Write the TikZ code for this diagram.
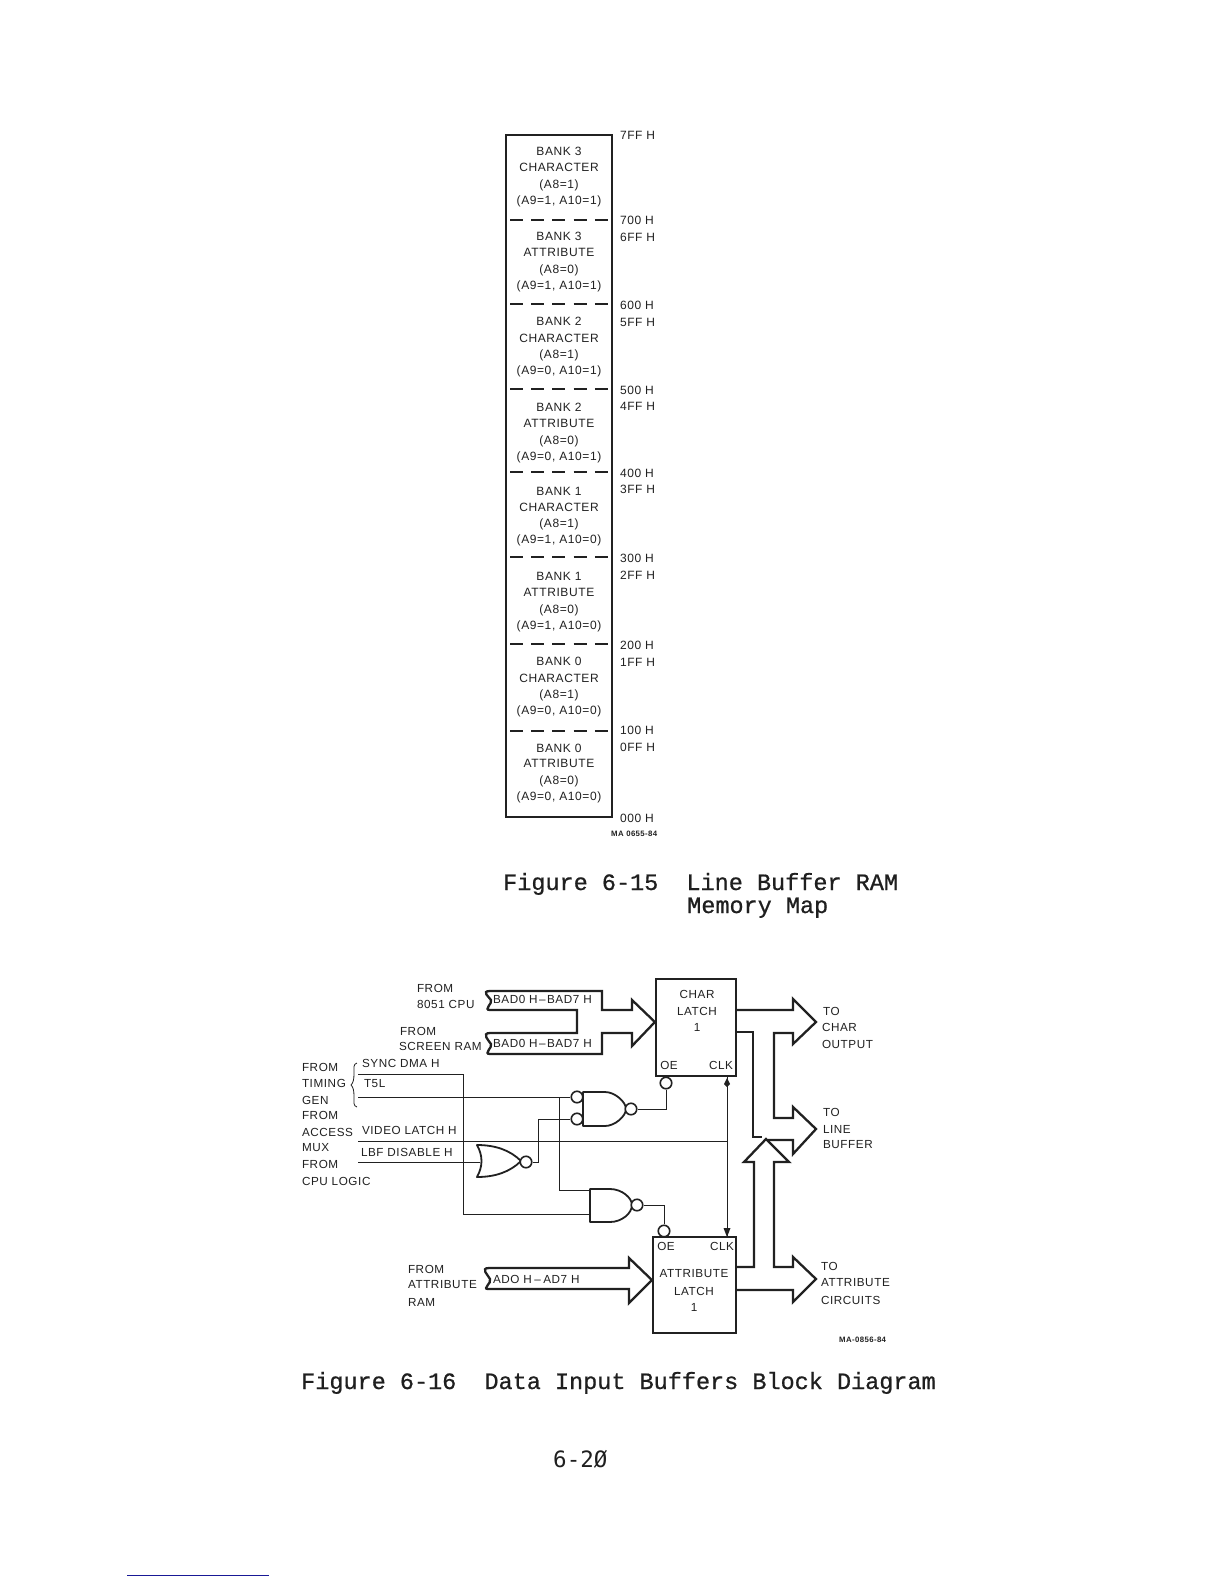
\documentclass[tikz,border=0pt]{standalone}
\usepackage{fontspec}
\newfontfamily\labfont[LetterSpace=5]{Liberation Sans}
\newfontfamily\capfont[FakeBold=0.7]{Liberation Mono}
\newfontfamily\pagefont{DejaVu Sans Mono}
\definecolor{ink}{gray}{0.13}
\definecolor{capink}{gray}{0.12}
\definecolor{footblue}{RGB}{25,25,150}
\tikzset{
  x=1pt,y=-1pt,
  maplab/.style={font=\labfont\fontsize{12}{12}\selectfont,text=ink,inner sep=0pt,outer sep=0pt},
  lab/.style={font=\labfont\fontsize{11.7}{12}\selectfont,text=ink,inner sep=0pt,outer sep=0pt},
  labl/.style={lab,anchor=west},
  maplabl/.style={maplab,anchor=west},
  tiny lab/.style={font=\labfont\bfseries\fontsize{7.8}{8}\selectfont,text=ink,inner sep=0pt,anchor=west},
  captext/.style={font=\capfont\fontsize{23.5}{24}\selectfont,text=capink,inner sep=0pt,anchor=base west},
  pagetext/.style={font=\pagefont\fontsize{22.5}{24}\selectfont,text=capink,inner sep=0pt,anchor=base west},
  mapframe/.style={draw=ink,line width=2.6pt},
  dashrule/.style={draw=ink,line width=2pt,dash pattern=on 13pt off 8.2pt},
  bus/.style={draw=ink,line width=2.3pt,line join=miter,fill=white},
  wire/.style={draw=ink,line width=0.8pt},
  gate/.style={draw=ink,line width=1.8pt,fill=white,line join=round},
  bubble/.style={circle,draw=ink,line width=1.6pt,fill=white,minimum size=11.5pt,inner sep=0pt},
  latch/.style={rectangle,draw=ink,line width=2.2pt,fill=white,inner sep=0pt}
}
\begin{document}
\begin{tikzpicture}
\useasboundingbox[fill=white] (0,0) rectangle (1224,1584);
% --- memory map
\draw[mapframe] (506,135) rectangle (612,817);
\foreach \yy/\nm in {220/a,304/b,389/c,472/d,557/e,644/f,731/g}
  \draw[dashrule] (510,\yy) -- (608,\yy);
\foreach \n/\a/\b/\c/\d/\ya/\yb/\yc/\yd in {
 m1/BANK 3/CHARACTER/(A8=1)/{(A9=1, A10=1)}/151/167/185/201,
 m2/BANK 3/ATTRIBUTE/(A8=0)/{(A9=1, A10=1)}/236/252/270/286,
 m3/BANK 2/CHARACTER/(A8=1)/{(A9=0, A10=1)}/321/338/355/371,
 m4/BANK 2/ATTRIBUTE/(A8=0)/{(A9=0, A10=1)}/407/423/441/457,
 m5/BANK 1/CHARACTER/(A8=1)/{(A9=1, A10=0)}/491/507/524/540,
 m6/BANK 1/ATTRIBUTE/(A8=0)/{(A9=1, A10=0)}/576/592/610/626,
 m7/BANK 0/CHARACTER/(A8=1)/{(A9=0, A10=0)}/661/678/695/711,
 m8/BANK 0/ATTRIBUTE/(A8=0)/{(A9=0, A10=0)}/748/763/781/797}{
  \node[maplab] (\n a) at (559,\ya) {\a};
  \node[maplab] (\n b) at (559,\yb) {\b};
  \node[maplab] (\n c) at (559,\yc) {\c};
  \node[maplab] (\n d) at (559,\yd) {\d};
}
\foreach \n/\t/\yy in {
 h1/7FF H/135,h2/700 H/220,h3/6FF H/237,h4/600 H/305,h5/5FF H/322,
 h6/500 H/390,h7/4FF H/406,h8/400 H/473,h9/3FF H/489,h10/300 H/558,
 h11/2FF H/575,h12/200 H/645,h13/1FF H/662,h14/100 H/730,h15/0FF H/747,h16/000 H/818}{
  \node[maplabl] (\n) at (620,\yy) {\t};
}
\node[tiny lab] (ma1) at (611,834) {MA 0655-84};
% --- captions
\node[captext] (c1) at (503,890) {Figure 6-15~~Line Buffer RAM};
\node[captext] (c2) at (687,913) {Memory Map};
\node[captext] (c3) at (301,1389) {Figure 6-16~~Data Input Buffers Block Diagram};
\node[pagetext] (c4) at (553,1467) {6-2Ø};
% --- latches
\node[latch,minimum width=80pt,minimum height=97pt] (charlatch) at (696,1027.5) {};
\node[latch,minimum width=83pt,minimum height=96pt] (attrlatch) at (694.5,1285) {};
\node[lab] (cl1) at (697,994) {CHAR};
\node[lab] (cl2) at (697,1011) {LATCH};
\node[lab] (cl3) at (697,1027) {1};
\node[lab] (cl4) at (669,1065) {OE};
\node[lab] (cl5) at (721,1065) {CLK};
\node[lab] (al1) at (694,1274) {ATTRIBUTE};
\node[lab] (al2) at (694,1291) {LATCH};
\node[lab] (al3) at (694,1307) {1};
\node[lab] (al4) at (666,1246) {OE};
\node[lab] (al5) at (722,1246) {CLK};
% --- input buses
\draw[bus] (577,1010) -- (490,1010) .. controls (483,1010) and (493,1003) .. (491,1000)
  .. controls (489,997) and (481,991) .. (490,991) -- (602,991) -- (602,1010) -- (632,1010)
  -- (632,1000) -- (charlatch.west |- 0,1022) -- (632,1046) -- (632,1033) -- (602,1033)
  -- (602,1054) -- (490,1054) .. controls (483,1054) and (493,1047) .. (491,1044)
  .. controls (489,1041) and (481,1033) .. (490,1033) -- (577,1033) -- cycle;
\draw[bus] (attrlatch.west |- 0,1280) -- (629,1303) -- (629,1289) -- (488,1289)
  .. controls (482,1289) and (492,1283) .. (490,1279)
  .. controls (488,1275) and (480,1268) .. (489,1268) -- (629,1268) -- (629,1258) -- cycle;
% --- output buses
\draw[bus] (charlatch.east |- 0,1010) -- (793,1010) -- (793,999) -- (816,1022) -- (793,1044)
  -- (793,1033) -- (774,1033) -- (774,1118) -- (793,1118) -- (793,1107) -- (816,1129)
  -- (793,1154) -- (793,1140) -- (768,1140);
\draw[bus,fill=none] (charlatch.east |- 0,1032) -- (753,1032) -- (753,1137) -- (762,1137);
\draw[bus] (attrlatch.east |- 0,1267) -- (754,1267) -- (754,1162) -- (744,1162) -- (766,1139)
  -- (789,1162) -- (774,1162) -- (774,1267) -- (793,1267) -- (793,1257) -- (816,1279)
  -- (793,1302) -- (793,1290) -- (attrlatch.east |- 0,1290);
% --- gates
\draw[gate] (583,1092) -- (605,1092) .. controls (615,1092) and (626,1102) .. (626,1109)
  .. controls (626,1116) and (615,1126) .. (605,1126) -- (583,1126) -- cycle;
\draw[gate] (590,1189) -- (610,1189) .. controls (622,1189) and (632,1198) .. (632,1205)
  .. controls (632,1213) and (622,1222) .. (610,1222) -- (590,1222) -- cycle;
\draw[gate] (477,1145) .. controls (495,1145) and (510,1150) .. (521,1161)
  .. controls (510,1172) and (495,1177) .. (477,1177)
  .. controls (483,1166) and (483,1156) .. (477,1145) -- cycle;
\node[bubble] (nandAin1) at (577,1097) {};
\node[bubble] (nandAin2) at (577,1119) {};
\node[bubble] (nandAout) at (631,1109) {};
\node[bubble] (nandBout) at (637,1205) {};
\node[bubble] (norout) at (526,1162) {};
\node[bubble] (coe) at (666,1083) {};
\node[bubble] (aoe) at (664,1231) {};
\coordinate (fromT) at (358,1097);
\coordinate (fromTL) at (358,1074);
\coordinate (fromV) at (358,1141);
\coordinate (fromL) at (358,1162);
\coordinate (norin) at (480,1162);
\coordinate (nandBa) at (590,1190);
\coordinate (nandBb) at (590,1214);
\coordinate (clkc) at (727,1076);
\coordinate (clka) at (727,1237);
% --- wires
\draw[wire] (fromT) -- (nandAin1.west);
\draw[wire] (fromTL) -- (463,1074) -- (463,1214) -- (nandBb);
\draw[wire] (fromV) -- (727,1141);
\draw[wire] (fromL) -- (norin);
\draw[wire] (norout.east) -- (538,1162) -- (538,1119) -- (nandAin2.west);
\draw[wire] (559,1097) -- (559,1190) -- (nandBa);
\draw[wire] (nandAout.east) -- (666,1109) -- (coe.south);
\draw[wire] (nandBout.east) -- (664,1205) -- (aoe.north);
\draw[wire] (clkc) -- (clka);
\fill[ink] (727,1078) -- (730,1084) -- (727,1087) -- (724,1084) -- cycle;
\fill[ink] (727,1237) -- (723.5,1228) -- (730.5,1228) -- cycle;
% --- brace
\draw[wire] (357,1063) .. controls (353,1064) and (354,1068) .. (354,1074)
  .. controls (354,1080) and (353,1083) .. (351,1085)
  .. controls (353,1087) and (354,1090) .. (354,1096)
  .. controls (354,1102) and (353,1106) .. (357,1107);
% --- left labels
\foreach \n/\t/\xx/\yy in {
 l1/FROM/417/988, l2/8051 CPU/417/1004, l3/FROM/400/1031, l4/SCREEN RAM/399/1046,
 l5/FROM/302/1067, l6/TIMING/302/1083, l7/GEN/302/1100, l8/FROM/302/1115,
 l9/ACCESS/302/1132, l10/MUX/302/1148, l11/FROM/302/1164, l12/CPU LOGIC/302/1181,
 l13/SYNC DMA H/362/1063, l14/T5L/364/1084, l15/VIDEO LATCH H/362/1130,
 l16/LBF DISABLE H/361/1152, l17/BAD0 H\kern1.5pt–\kern1.5pt BAD7 H/493/999, l18/BAD0 H\kern1.5pt–\kern1.5pt BAD7 H/493/1043,
 l19/FROM/408/1269, l20/ATTRIBUTE/408/1285, l21/RAM/408/1302, l22/ADO H\kern2.5pt–\kern2.5pt AD7 H/493/1279,
 r1/TO/823/1011, r2/CHAR/822/1027, r3/OUTPUT/822/1044, r4/TO/823/1112, r5/LINE/823/1129,
 r6/BUFFER/823/1145, r7/TO/821/1266, r8/ATTRIBUTE/821/1283, r9/CIRCUITS/821/1300}{
  \node[labl] (\n) at (\xx,\yy) {\t};
}
\node[tiny lab] (ma2) at (839,1340) {MA-0856-84};
% --- page rule at the foot
\coordinate (footl) at (127,1575);
\coordinate (footr) at (269,1575);
\draw[draw=footblue,line width=1pt] (footl) -- (footr);
\end{tikzpicture}
\end{document}
